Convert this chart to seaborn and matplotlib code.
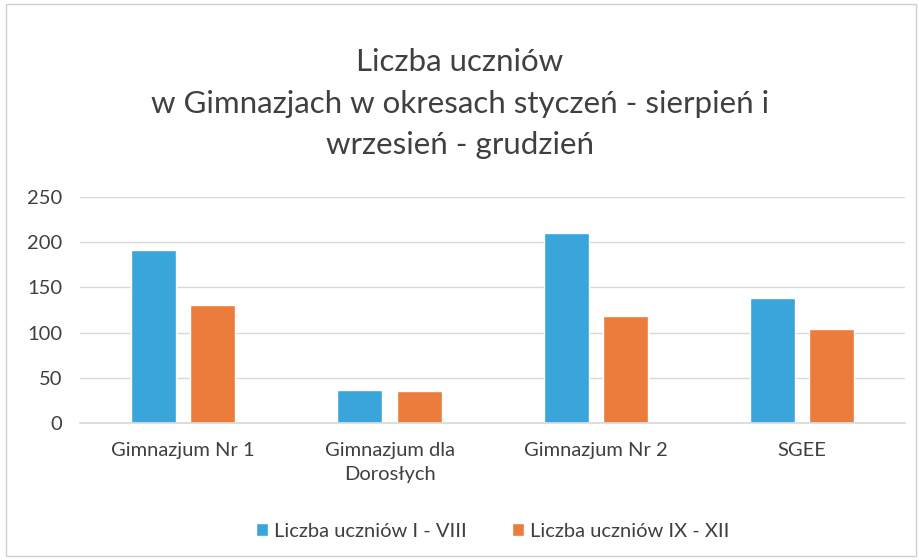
import matplotlib
matplotlib.use("Agg")
import matplotlib.pyplot as plt
import seaborn as sns
import pandas as pd
from matplotlib.patches import Rectangle

categories = ["Gimnazjum Nr 1", "Gimnazjum dla\nDorosłych", "Gimnazjum Nr 2", "SGEE"]
series_names = ["Liczba uczniów I - VIII", "Liczba uczniów IX - XII"]
values_1_8 = [191, 36, 210, 138]
values_9_12 = [130, 35, 118, 104]
yticks = [0, 50, 100, 150, 200, 250]

df = pd.DataFrame({
    "cat": categories * 2,
    "series": [series_names[0]] * 4 + [series_names[1]] * 4,
    "val": values_1_8 + values_9_12,
})

sns.set_theme(style="white")
plt.rcParams["font.family"] = ["Lato", "DejaVu Sans"]

fig = plt.figure(figsize=(9.2, 5.6), dpi=100)
ax = fig.add_axes([0.087, 0.245, 0.897, 0.403])

palette = {series_names[0]: "#3AA5DB", series_names[1]: "#EC7C3C"}
sns.barplot(data=df, x="cat", y="val", hue="series", palette=palette,
            width=0.573, gap=0.24, ax=ax, saturation=1, legend=True)

ax.set_xlim(-0.5, 3.5)
ax.set_ylim(0, 250)
ax.set_yticks(yticks)
ax.yaxis.grid(True, color="#d9d9d9", linewidth=1)
ax.set_axisbelow(True)
for s in ["top", "right", "left"]:
    ax.spines[s].set_visible(False)
ax.spines["bottom"].set_color("#d9d9d9")
ax.set_xlabel("")
ax.set_ylabel("")
ax.tick_params(axis="both", labelsize=14.5, colors="#404040", length=0)
ax.tick_params(axis="x", pad=14)
ax.tick_params(axis="y", pad=13)
for lab in ax.get_xticklabels():
    lab.set_linespacing(1.45)

leg = ax.legend(loc="center", bbox_to_anchor=(0.5, -0.48), ncol=2,
                frameon=False, fontsize=14.5, handlelength=0.6, handleheight=0.6,
                columnspacing=2.2, handletextpad=0.3)
for t in leg.get_texts():
    t.set_color("#404040")

fig.text(0.5, 0.815, "Liczba uczniów\nw Gimnazjach w okresach styczeń - sierpień i\nwrzesień - grudzień",
         ha="center", va="center", fontsize=22.5, color="#404040", linespacing=1.6)

fig.patches.append(Rectangle((0.006, 0.008), 0.99, 0.985, transform=fig.transFigure,
                             fill=False, edgecolor="#d0d0d0", linewidth=1))

fig.savefig("out.png", dpi=100)
